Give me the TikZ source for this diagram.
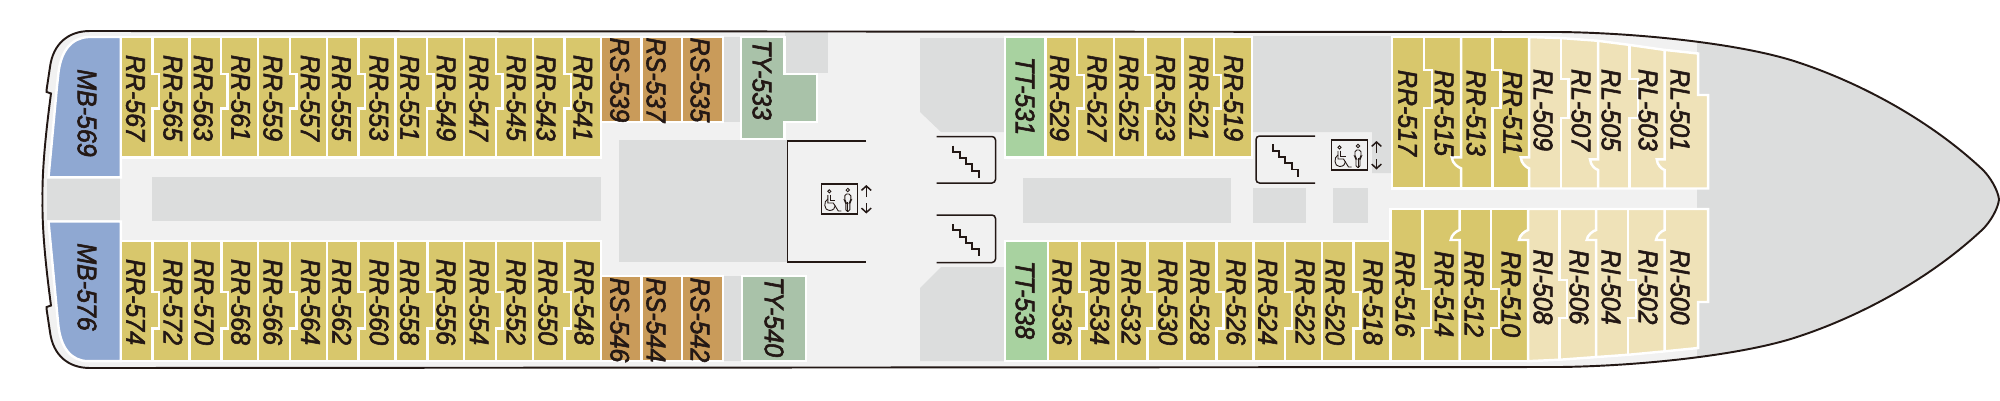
\documentclass[tikz,border=0pt]{standalone}
\usepackage{fontspec}
\setmainfont{Liberation Sans}[ItalicFeatures={FakeBold=2.2}]
\usetikzlibrary{arrows.meta}

\definecolor{deckline}{HTML}{231815}
\definecolor{deckfloor}{HTML}{F1F1F1}
\definecolor{deckgrey}{HTML}{DCDDDD}
\definecolor{cabinrr}{HTML}{D8C76C}
\definecolor{cabinrl}{HTML}{EFE2B8}
\definecolor{cabinrs}{HTML}{C99B5A}
\definecolor{cabinty}{HTML}{A9C2A9}
\definecolor{cabintt}{HTML}{A8D2A0}
\definecolor{cabinmb}{HTML}{8FA8D2}

\tikzset{
    cabinfill/.style={fill=#1, draw=white, line width=1.4pt, line join=miter},
    cabinline/.style={draw=white, line width=1.4pt},
    greyblock/.style={fill=deckgrey},
    cabintext/.style={rotate=-90, xscale=0.93, inner sep=0pt, text=deckline,
        font=\fontsize{15.3}{15.3}\selectfont\itshape},
    wallline/.style={draw=deckline, line width=0.85pt},
    signline/.style={draw=deckline, line width=0.5pt}
}

\newcommand{\hullpath}{(90,31) -- (1560,32) .. controls (1640,33) and (1745,44) .. (1800,63)
    .. controls (1860,83) and (1930,120) .. (1983,170)
    .. controls (1990,177) and (1998,190) .. (1999,199.5)
    .. controls (1998,209) and (1990,222) .. (1983,229)
    .. controls (1930,279) and (1860,316) .. (1800,336)
    .. controls (1745,355) and (1640,366) .. (1560,367) -- (90,368)
    .. controls (68,368) and (53,355) .. (50,332) -- (46.7,310) -- (46.7,307) -- (51,305.5)
    .. controls (46,268) and (42,230) .. (42.5,199.5)
    .. controls (42,169) and (46,131) .. (51,93.5)
    -- (46.7,92) -- (46.7,89) -- (50,67) .. controls (53,44) and (68,31) .. (90,31) -- cycle}
% jogged wall between two cabins: x, row top, jog top, jog bottom, row bottom, jog depth
\newcommand{\tabline}[6]{\draw[cabinline] (#1,#2) -- (#1,#3) -- ++(#6,0) -- ++(0,{#4-#3}) -- ++({-(#6)},0) -- (#1,#5);}
% wall with a door swing, top row: x, row top, door top, door bottom, row bottom, swing x
\newcommand{\doorline}[6]{\draw[cabinline] (#1,#2) -- (#1,#3) -- (#6,#3) .. controls ({#6+0.5},{#3+6}) and ({#1-3},{#4-1}) .. (#1,#4) -- (#1,#5);}
% same, bottom row: swing opens upward
\newcommand{\doorlineb}[6]{\draw[cabinline] (#1,#2) -- (#1,#3) .. controls ({#1-3},{#3+1}) and ({#6+0.5},{#4-5}) .. (#6,#4) -- (#1,#4) -- (#1,#5);}
\newcommand{\stairline}[2]{\draw[wallline, line width=1.1pt] (#1,#2) -- ++(0,6.3) -- ++(6.3,0) -- ++(0,6.3) -- ++(6.3,0) -- ++(0,6.3) -- ++(6.5,0) -- ++(0,6.3) -- ++(6.5,0) -- ++(0,7);}
\newcommand{\liftsign}[2]{
    \begin{scope}[shift={(#1,#2)}]
        \draw[wallline] (0,0) rectangle (36,30);
        % wheelchair user
        \draw[signline] (8,7.3) circle (1.6);
        \draw[signline] (6.5,11) -- (6.5,19) -- (12,19) -- (17,27) -- (20,27);
        \draw[signline] (9,10.5) -- (9,16.5) -- (14,16.5);
        \draw[signline] (6.5,15) .. controls (2,17) and (2.5,26.5) .. (8,26.5) .. controls (12,26.5) and (14,24) .. (14,21.5);
        % standing person
        \draw[signline] (26.5,6) circle (1.7);
        \draw[signline, rounded corners=1pt] (24.5,18) -- (23.5,17) -- (23.5,10) -- (29.5,10) -- (29.5,17) -- (28.5,18) -- (28.5,27.5) -- (24.5,27.5) -- cycle;
        \draw[signline] (26.5,18) -- (26.5,27.5);
        % up and down
        \coordinate (liftup) at (45,1);
        \coordinate (liftmid) at (45,13);
        \coordinate (liftmidb) at (45,19);
        \coordinate (liftdown) at (45,29.5);
        \draw[wallline, -{Straight Barb[length=2.5pt,width=5.5pt]}] (liftmid) -- (liftup);
        \draw[wallline, -{Straight Barb[length=2.5pt,width=5.5pt]}] (liftmidb) -- (liftdown);
    \end{scope}
}

\begin{document}
\begin{tikzpicture}[x=0.02cm, y=-0.02cm]
    \useasboundingbox (0,0) rectangle (2000,400);

    % Hull and bow
    \fill[deckfloor] \hullpath;
    \begin{scope}
        \clip \hullpath;
        \fill[deckgrey] (1697,0) rectangle (2000,400);
    \end{scope}

    % Grey blocks
    \fill[greyblock] (47,178) rectangle (120,220);
    \fill[greyblock] (152,177) rectangle (601,221);
    \fill[greyblock] (619,140) rectangle (787,262);
    \fill[greyblock] (724,37) rectangle (740,122);
    \fill[greyblock] (724,276) rectangle (741,361);
    \fill[greyblock] (785,32) rectangle (828,73);
    \fill[greyblock] (920,38) -- (1004,38) -- (1004,132) -- (941,132) -- (920,112) -- cycle;
    \fill[greyblock] (920,361) -- (1004,361) -- (1004,267) -- (941,267) -- (920,288) -- cycle;
    \fill[greyblock] (1023,178) rectangle (1231,223);
    \fill[greyblock] (1253,188) rectangle (1306,223);
    \fill[greyblock] (1333,188) rectangle (1368,223);
    \fill[greyblock] (1253,36) -- (1391,36) -- (1391,173) -- (1372,173) -- (1372,132) -- (1253,132) -- cycle;

    % Suites at the stern
    \path[cabinfill=cabinmb] (120.8,37) -- (88,37) .. controls (72,38) and (60,50) .. (58,77) -- (57,86) -- (48.5,177.3) -- (120.8,177.3) -- cycle;
    \path[cabinfill=cabinmb] (120.8,221.5) -- (48.5,221.5) -- (57,312) -- (58,322) .. controls (60,349) and (72,361) .. (88,361.2) -- (120.8,361.2) -- cycle;

    % Cabin rows
    \path[cabinfill=cabinrr] (120.8,37) rectangle (601,157.3);
    \path[cabinfill=cabinrr] (120.8,240.8) rectangle (601,361.2);
    \foreach \xpos in {120.8,189.5,258.1,326.8,395.5,464.2,532.8} {
        \tabline{\xpos+31.7}{37}{74}{108.7}{157.3}{6.5}
        \tabline{\xpos+31.9}{240.8}{292}{328.3}{361.2}{6.5}
        \draw[cabinline] (\xpos,37) -- (\xpos,157.3);
        \draw[cabinline] (\xpos,240.8) -- (\xpos,361.2);
    }

    \foreach \xpos/\xend in {600.8/641.5,641.5/682,682/723} {
        \path[cabinfill=cabinrs] (\xpos,37) rectangle (\xend,122);
        \path[cabinfill=cabinrs] (\xpos,276) rectangle (\xend,361.2);
    }
    \path[cabinfill=cabinty] (740.8,37) -- (784.3,37) -- (784.3,74) -- (817,74) -- (817,122) -- (784.3,122) -- (784.3,139) -- (740.8,139) -- cycle;
    \path[cabinfill=cabinty] (742,276) rectangle (806,361.2);
    \path[cabinfill=cabintt] (1004.8,37) rectangle (1045.5,157.3);
    \path[cabinfill=cabintt] (1004.8,240.8) rectangle (1047.8,361.2);

    \path[cabinfill=cabinrr] (1045.5,37) rectangle (1252,157.3);
    \foreach \xpos in {1045.5,1114,1182.5} {
        \tabline{\xpos+31.7}{37}{75}{108.7}{157.3}{7}
        \draw[cabinline] (\xpos,37) -- (\xpos,157.3);
    }
    \path[cabinfill=cabinrr] (1047.8,240.8) rectangle (1390.5,361.2);
    \foreach \xpos in {1047.8,1116,1184.7,1253.5,1322} {
        \tabline{\xpos+31.7}{240.8}{292}{328.3}{361.2}{7}
        \draw[cabinline] (\xpos,240.8) -- (\xpos,361.2);
    }

    % Forward block, port side
    \path[cabinfill=cabinrr] (1392,37) rectangle (1529,188.5);
    \tabline{1424}{37}{70}{108}{188.5}{8}
    \doorline{1461}{37}{157.3}{168.3}{188.5}{1451.7}
    \tabline{1492.7}{37}{70}{108}{188.5}{8}
    \path[cabinfill=cabinrl] (1529,37) -- (1560,38) -- (1597,40.7) -- (1628,44.7) -- (1663,49.7) -- (1698,53.5) -- (1698,95) -- (1708,95) -- (1708,188.5) -- (1529,188.5) -- (1529,168.3) .. controls (1526,167.3) and (1521.2,163.3) .. (1520.7,157.3) -- (1529,157.3) -- cycle;
    \tabline{1561}{38}{79}{118}{188.5}{7.5}
    \doorline{1598}{41}{159.3}{170}{188.5}{1590}
    \tabline{1629.5}{45}{79}{118}{188.5}{8.5}
    \doorline{1664.7}{50}{159.3}{170}{188.5}{1656.7}

    % Forward block, starboard side
    \path[cabinfill=cabinrr] (1390.5,209) rectangle (1528,361.2);
    \tabline{1422.7}{209}{289}{328}{361.2}{8.3}
    \doorlineb{1459.5}{209}{230}{240}{361.2}{1450.7}
    \tabline{1491}{209}{289}{328}{361.2}{8}
    \path[cabinfill=cabinrl] (1528,209) -- (1708,209) -- (1708,302) -- (1698,302) -- (1698,348) -- (1665,351.3) -- (1629,354.7) -- (1597,357) -- (1560,359.7) -- (1528,361.2) -- (1528,240) -- (1519,240) .. controls (1519.5,235) and (1525,231) .. (1528,230) -- cycle;
    \tabline{1559.3}{209}{280}{318}{359.7}{7.7}
    \doorlineb{1596}{209}{230}{240}{357}{1586.7}
    \tabline{1628}{209}{280}{318}{354.7}{8}
    \doorlineb{1664.5}{209}{230}{240}{351.3}{1656}

    % Hull outline on top
    \draw[wallline, line width=1.1pt] \hullpath;

    % Stairs and lift
    \draw[wallline] (866,141) -- (787.5,141) -- (787.5,262) -- (866,262);
    \draw[wallline, rounded corners=2pt] (936.7,136.5) -- (995.5,136.5) -- (995.5,183) -- (936.7,183);
    \draw[wallline, rounded corners=2pt] (936.7,215) -- (995.5,215) -- (995.5,262.5) -- (936.7,262.5);
    \draw[wallline, rounded corners=2pt] (1315,136) -- (1256,136) -- (1256,183) -- (1315,183);
    \stairline{953.3}{145.5}
    \stairline{953.3}{224}
    \stairline{1272.7}{144.3}
    \liftsign{821.3}{184}
    \liftsign{1331.5}{140}

    % Cabin numbers
    \node (mb569) [cabintext] at (87,113) {MB-569};
    \node (mb576) [cabintext] at (87,287) {MB-576};
    \foreach \xpos/\num in {135.5/567,172.8/565,203.2/563,240.7/561,272.8/559,310/557,341.2/555,378.8/553,409.5/551,446.2/549,478.8/547,516/545,546/543,582.8/541,1059.5/529,1097/527,1128.8/525,1165.5/523,1198.8/521,1233.5/519}
        \node (rr\num) [cabintext] at (\xpos,98) {RR-\num};
    \foreach \xpos/\num in {135.5/574,172.8/572,204/570,240.7/568,272.8/566,310.5/564,341.7/562,379/560,409.5/558,446/556,479/554,516/552,547.8/550,584/548,1062/536,1099.7/534,1131/532,1167.8/530,1199.7/528,1236/526,1267.7/524,1305/522,1335/520,1373/518}
        \node (rr\num) [cabintext] at (\xpos,302) {RR-\num};
    \foreach \xpos/\num in {619.7/539,656/537,700/535}
        \node (rs\num) [cabintext] at (\xpos,80) {RS-\num};
    \foreach \xpos/\num in {619.7/546,656/544,700/542}
        \node (rs\num) [cabintext] at (\xpos,320) {RS-\num};
    \node (ty533) [cabintext] at (762,80) {TY-533};
    \node (ty540) [cabintext] at (774,317) {TY-540};
    \node (tt531) [cabintext] at (1025,96) {TT-531};
    \node (tt538) [cabintext] at (1025,300) {TT-538};
    \foreach \xpos/\num in {1407.5/517,1444/515,1476/513,1512.5/511}
        \node (rr\num) [cabintext] at (\xpos,113) {RR-\num};
    \foreach \xpos/\num in {1405/516,1444/514,1474/512,1511/510}
        \node (rr\num) [cabintext] at (\xpos,294) {RR-\num};
    \foreach \xpos/\num in {1543/509,1581/507,1611/505,1648/503,1680/501}
        \node (rl\num) [cabintext] at (\xpos,110) {RL-\num};
    \foreach \xpos/\num in {1543/508,1579/506,1611/504,1648/502,1680/500}
        \node (ri\num) [cabintext] at (\xpos,287) {RI-\num};
\end{tikzpicture}
\end{document}
